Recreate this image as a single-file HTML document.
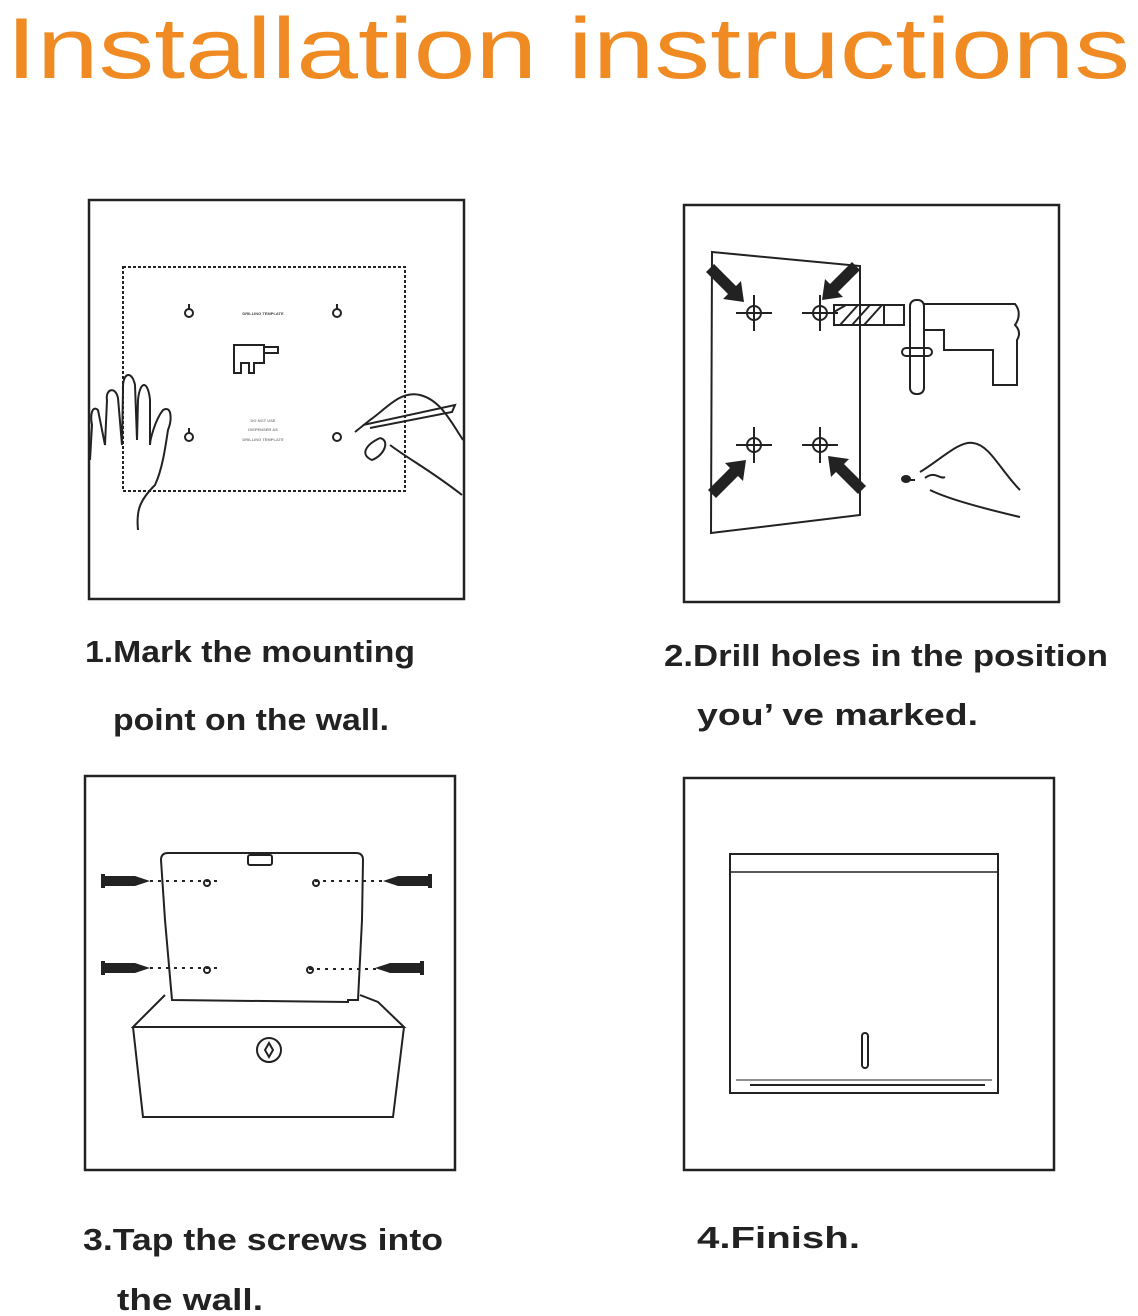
<!DOCTYPE html>
<html><head><meta charset="utf-8"><style>
html,body{margin:0;padding:0;background:#fff;}
svg{display:block}
</style></head><body>
<svg width="1138" height="1316" viewBox="0 0 1138 1316" xmlns="http://www.w3.org/2000/svg" font-family="Liberation Sans, sans-serif">
<text x="6" y="78" font-size="86" fill="#ef8b22" textLength="1124" lengthAdjust="spacingAndGlyphs">Installation instructions</text>

<g fill="none" stroke="#222" stroke-width="2.5">
<rect x="89" y="200" width="375" height="399"/>
<rect x="684" y="205" width="375" height="397"/>
<rect x="85" y="776" width="370" height="394"/>
<rect x="684" y="778" width="370" height="392"/>
</g>

<!-- Panel 1 -->
<g fill="none" stroke="#222" stroke-width="2">
<rect x="123" y="267" width="282" height="224" stroke-dasharray="3 2"/>
<circle cx="189" cy="313" r="4"/><line x1="189" y1="304" x2="189" y2="309"/>
<circle cx="337" cy="313" r="4"/><line x1="337" y1="304" x2="337" y2="309"/>
<circle cx="189" cy="437" r="4"/><line x1="189" y1="428" x2="189" y2="433"/>
<circle cx="337" cy="437" r="4"/>
<path d="M234 345 h30 v18 h-10 v10 h-5 v-10 h-8 v10 h-7 z M264 347 h14 v6 h-14"/>
<path d="M138 530 C136 510 140 500 155 485 C162 470 165 450 168 430 C172 420 172 405 163 410 C155 420 150 440 150 445 L150 400 C148 380 140 380 138 400 L137 440 L135 385 C132 370 122 372 123 390 L122 445 L118 398 C115 385 105 390 107 400 L105 445 L98 410 C92 405 90 415 92 425 L90 460"/>
<path d="M463 440 C450 420 440 400 420 395 C400 390 385 410 370 420 L355 432 M363 425 L455 405 L452 412 L370 428 M380 438 C365 445 360 455 372 460 C385 455 390 440 380 438 M390 445 C410 460 430 470 462 495"/>
</g>
<g font-size="4" fill="#444" font-weight="bold" text-anchor="middle">
<text x="263" y="315">DRILLING TEMPLATE</text>
<text x="263" y="422" fill="#888">DO NOT USE</text>
<text x="263" y="431" fill="#888">DISPENSER AS</text>
<text x="263" y="441" fill="#888">DRILLING TEMPLATE</text>
</g>

<!-- Panel 2 -->
<g fill="none" stroke="#222" stroke-width="2">
<path d="M712 252 L860 266 L860 515 L711 533 Z"/>
<g>
<circle cx="754" cy="313" r="7"/><path d="M736 313h36M754 295v36"/>
<circle cx="820" cy="313" r="7"/><path d="M802 313h36M820 295v36"/>
<circle cx="754" cy="445" r="7"/><path d="M736 445h36M754 427v36"/>
<circle cx="820" cy="445" r="7"/><path d="M802 445h36M820 427v36"/>
</g>
<rect x="834" y="305" width="50" height="20"/>
<rect x="884" y="305" width="20" height="20"/>
<rect x="910" y="300" width="14" height="94" rx="6"/>
<rect x="902" y="348" width="30" height="8" rx="4"/>
<path d="M924 304 H1015 C1020 310 1020 318 1015 325 C1020 330 1020 335 1017 340 V385 H993 V350 H944 V330 H924"/>
<path d="M834 312 L846 305 M840 325 L858 305 M852 325 L870 305 M864 325 L882 305"/>
<path d="M1020 490 C1000 470 990 445 973 443 C960 440 940 460 920 472 M915 480 L905 480 M930 490 C950 500 990 510 1020 517 M925 478 C935 470 940 480 945 477"/>
</g>
<g fill="#222">
<path d="M706 272 L714 264 L736 286 L741 281 L744 302 L723 299 L728 294 Z"/>
<path d="M860 270 L852 262 L830 284 L825 279 L822 300 L843 297 L838 292 Z"/>
<path d="M716 498 L708 490 L730 468 L725 463 L746 460 L743 481 L738 476 Z"/>
<path d="M866 486 L858 494 L836 472 L831 477 L828 456 L849 459 L844 464 Z"/>
<ellipse cx="906" cy="479" rx="5" ry="4"/>
</g>

<!-- Panel 3 -->
<g fill="none" stroke="#222" stroke-width="2">
<path d="M161 860 Q161 853 168 853 H356 Q363 853 363 860 L362 920 L358 1000 L348 1000 L348 1002 L172 1000 L165 920 Z"/>
<rect x="248" y="855" width="24" height="10" rx="2"/>
<path d="M165 995 L133 1027 H404 L378 1002 L360 995"/>
<path d="M133 1027 L143 1117 H393 L404 1027"/>
<circle cx="269" cy="1050" r="12"/>
<path d="M269 1043 L273 1050 L269 1057 L265 1050 Z"/>
<path d="M150 881 h72 M150 968 h72 M315 881 h90 M309 969 h98" stroke-dasharray="3 5"/>
<circle cx="207" cy="883" r="3"/><circle cx="316" cy="883" r="3"/>
<circle cx="207" cy="970" r="3"/><circle cx="310" cy="970" r="3"/>
</g>
<g fill="#222">
<path d="M101 874 h4 v14 h-4 z M105 876 H135 L150 881 L135 886 H105 Z"/>
<path d="M101 961 h4 v14 h-4 z M105 963 H135 L150 968 L135 973 H105 Z"/>
<path d="M432 874 h-4 v14 h4 z M428 876 H398 L383 881 L398 886 H428 Z"/>
<path d="M424 961 h-4 v14 h4 z M420 963 H390 L375 968 L390 973 H420 Z"/>
</g>

<!-- Panel 4 -->
<g fill="none" stroke="#222" stroke-width="2">
<rect x="730" y="854" width="268" height="239"/>
<line x1="730" y1="872" x2="998" y2="872" stroke-width="1.5"/>
<rect x="862" y="1033" width="6" height="35" rx="3"/>
<line x1="750" y1="1085" x2="985" y2="1085"/>
<line x1="736" y1="1080" x2="992" y2="1080" stroke-width="1"/>
</g>

<g font-size="31" font-weight="bold" fill="#222">
<text x="85" y="662" textLength="330" lengthAdjust="spacingAndGlyphs">1.Mark the mounting</text>
<text x="113" y="730" textLength="276" lengthAdjust="spacingAndGlyphs">point on the wall.</text>
<text x="664" y="666" textLength="444" lengthAdjust="spacingAndGlyphs">2.Drill holes in the position</text>
<text x="697" y="725" textLength="281" lengthAdjust="spacingAndGlyphs">you’   ve marked.</text>
<text x="83" y="1250" textLength="360" lengthAdjust="spacingAndGlyphs">3.Tap the screws into</text>
<text x="117" y="1310" textLength="146" lengthAdjust="spacingAndGlyphs">the wall.</text>
<text x="697" y="1248" textLength="163" lengthAdjust="spacingAndGlyphs">4.Finish.</text>
</g>
</svg>
</body></html>
